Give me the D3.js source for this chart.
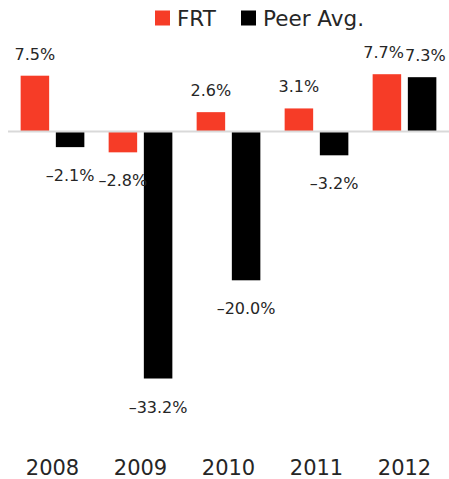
<!DOCTYPE html>
<html>
<head>
<meta charset="utf-8">
<script src="https://cdn.jsdelivr.net/npm/d3@7"></script>
<style>
  body { margin: 0; background: #fff; }
  svg { display: block; font-family: "DejaVu Sans", sans-serif; }
</style>
</head>
<body>
<svg id="chart" width="449" height="479"></svg>
<script>
const years = ["2008", "2009", "2010", "2011", "2012"];
const seriesNames = ["FRT", "Peer Avg."];
const frtValues = [7.5, -2.8, 2.6, 3.1, 7.7];
const peerValues = [-2.1, -33.2, -20.0, -3.2, 7.3];
const seriesColors = ["#f63c27", "#000000"];

const svg = d3.select("#chart");
const textColor = "#262626";

// x scales: one band per year, then a band per series inside it
const x0 = d3.scaleBand().domain(years).range([8.5, 448.5]).padding(0);
const x1 = d3
  .scaleBand()
  .domain(seriesNames)
  .range([0, x0.bandwidth()])
  .paddingInner(0.19)
  .paddingOuter(0.345);

// y scale (about 7.44 px per percent, zero at 131.5)
const y = d3.scaleLinear().domain([-40, 10]).range([429.1, 57.1]);

const rows = years.map((yr, i) => ({
  year: yr,
  bothUp: frtValues[i] >= 0 && peerValues[i] >= 0,
  values: [
    { name: seriesNames[0], value: frtValues[i], idx: 0 },
    { name: seriesNames[1], value: peerValues[i], idx: 1 },
  ],
}));

const color = d3.scaleOrdinal().domain(seriesNames).range(seriesColors);

// bars
const groups = svg
  .append("g")
  .selectAll("g")
  .data(rows)
  .join("g")
  .attr("transform", (d) => `translate(${x0(d.year)},0)`);

groups
  .selectAll("rect")
  .data((d) => d.values)
  .join("rect")
  .attr("x", (d) => x1(d.name))
  .attr("y", (d) => y(Math.max(0, d.value)))
  .attr("width", x1.bandwidth())
  .attr("height", (d) => Math.abs(y(d.value) - y(0)))
  .attr("fill", (d) => color(d.name));

// zero line
svg
  .append("line")
  .attr("x1", 8)
  .attr("x2", 449)
  .attr("y1", y(0))
  .attr("y2", y(0))
  .attr("stroke", "#d9d9d9")
  .attr("stroke-width", 2);

// value labels (when both bars are up, push the labels apart from the middle)
groups.each(function (g) {
  const mid = x0.bandwidth() / 2;
  d3.select(this)
    .selectAll("text")
    .data(g.values)
    .join("text")
    .attr("x", (d) =>
      g.bothUp ? (d.idx === 0 ? mid - 0.5 : mid + 0.5) : x1(d.name) + x1.bandwidth() / 2
    )
    .attr("y", (d) => (d.value >= 0 ? y(d.value) - 16 : y(d.value) + 34))
    .attr("text-anchor", (d) => (g.bothUp ? (d.idx === 0 ? "end" : "start") : "middle"))
    .attr("fill", textColor)
    .style("font-size", "16px")
    .text((d) => d.value.toFixed(1).replace("-", "\u2013") + "%");
});

// year labels
svg
  .append("g")
  .selectAll("text")
  .data(years)
  .join("text")
  .attr("x", (d) => x0(d) + x0.bandwidth() / 2)
  .attr("y", 475)
  .attr("text-anchor", "middle")
  .attr("fill", textColor)
  .style("font-size", "21px")
  .text((d) => d);

// legend
const legendX = [155, 241];
const legend = svg
  .append("g")
  .selectAll("g")
  .data(seriesNames)
  .join("g")
  .attr("transform", (d, i) => `translate(${legendX[i]},10.5)`);

legend
  .append("rect")
  .attr("width", 15)
  .attr("height", 15)
  .attr("fill", (d) => color(d));

legend
  .append("text")
  .attr("x", 22)
  .attr("y", 15.5)
  .attr("fill", textColor)
  .style("font-size", "21.5px")
  .text((d) => d);
</script>
</body>
</html>
